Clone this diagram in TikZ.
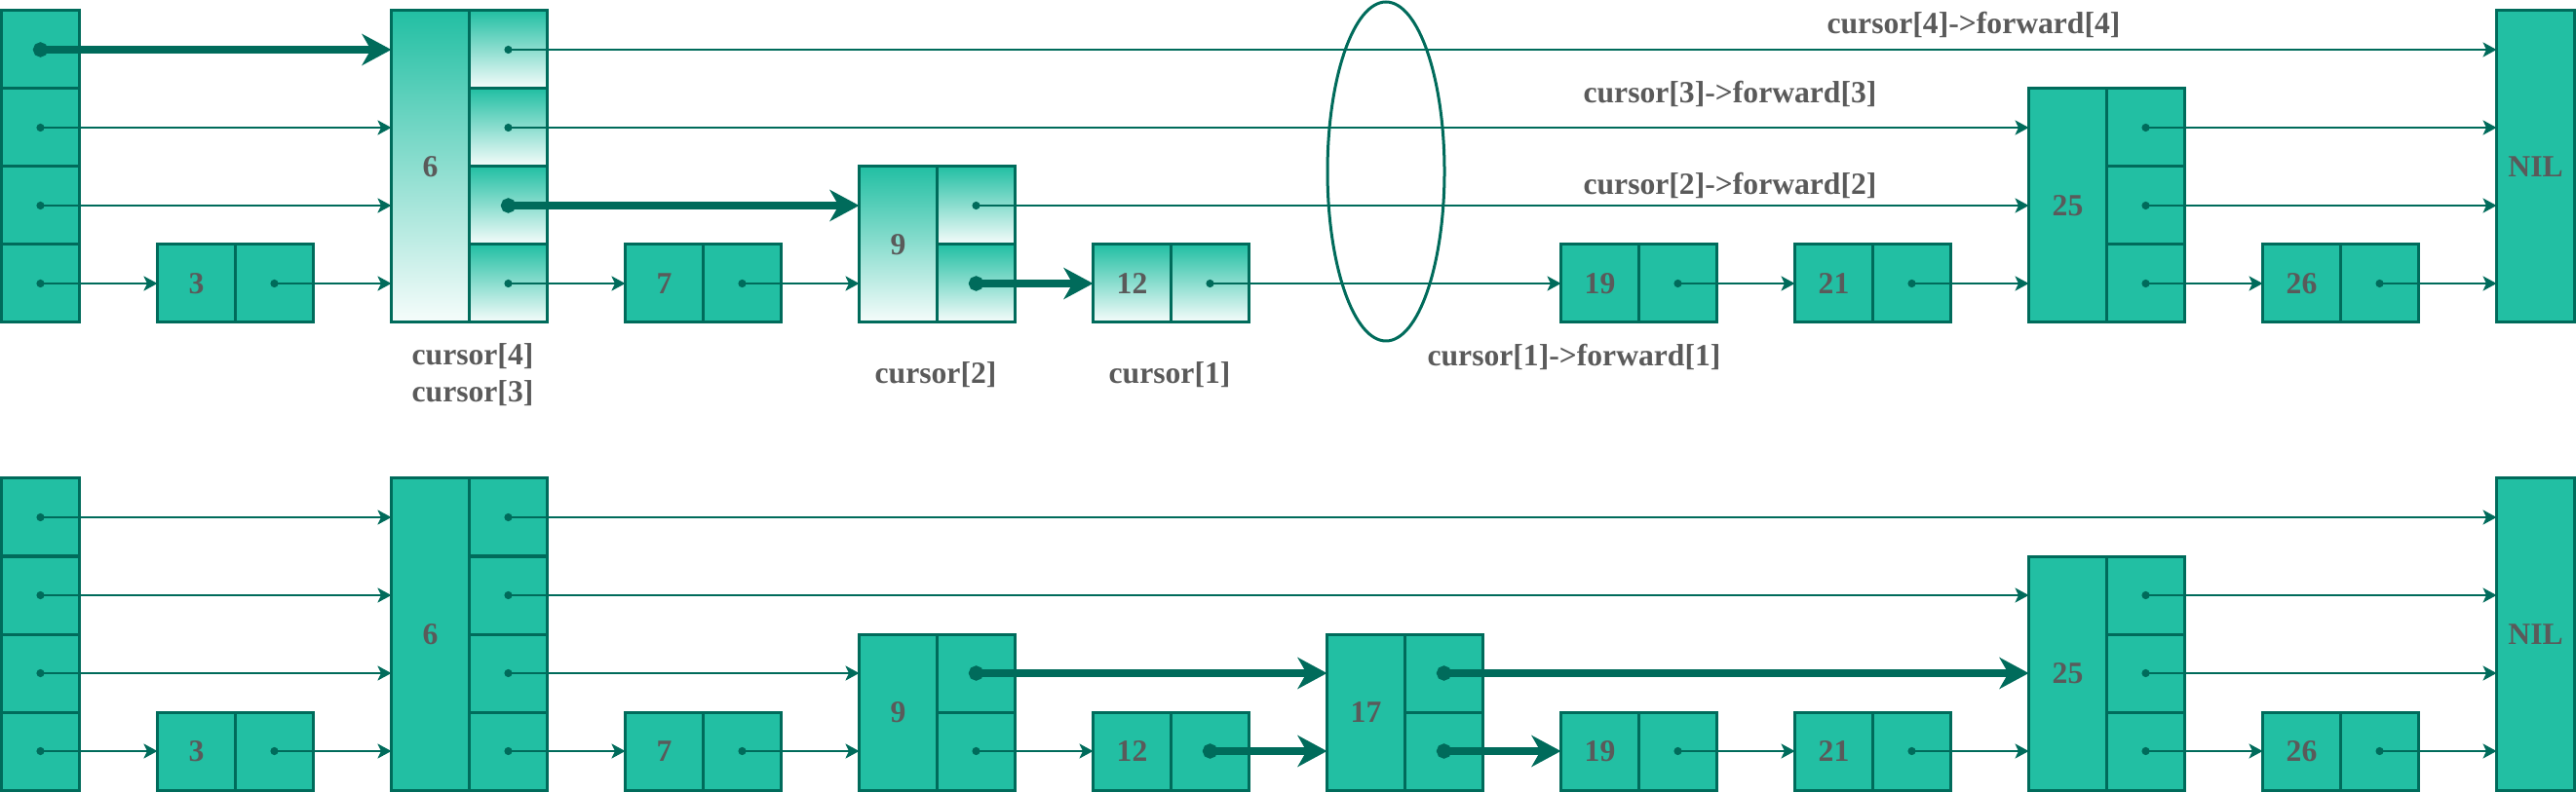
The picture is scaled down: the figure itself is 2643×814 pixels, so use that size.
\documentclass[tikz,border=0pt]{standalone}
\usepackage{fontspec}
\setmainfont{Liberation Serif}
\usetikzlibrary{arrows.meta}
\definecolor{skfill}{HTML}{22BFA3}
\definecolor{skline}{HTML}{006B5B}
\definecolor{sktext}{HTML}{5A5A5A}
% prefix, key, column, top of list, levels, extra style
\newcommand{\skipnode}[6]{%
  \node[cell, #6, minimum height=#5*8mm] (#1#2k) at ({80*#3+1.5}, {#4+(4-#5)*80}) {#2};
  \foreach \lev in {1,...,#5}
    \node[cell, #6] (#1#2p\lev) at ({80*#3+81.5}, {#4+(4-\lev)*80}) {};
}

\begin{document}
\begin{tikzpicture}[x=0.1mm, y=-0.1mm,
    cell/.style={draw=skline, line width=0.3mm, fill=skfill, anchor=north west,
      minimum width=8mm, minimum height=8mm, inner sep=0pt, outer sep=0pt,
      text=sktext, font=\bfseries\fontsize{9}{10.8}\selectfont},
    fade/.style={top color=skfill, bottom color=white!96!skfill},
    ptr/.style={draw=skline, line width=0.25mm, shorten <=-0.4mm,
      {Circle[length=0.8mm]}-{Stealth[length=1.4mm, width=1.5mm, inset=0.35mm]}},
    ptrbold/.style={draw=skline, line width=0.8mm, shorten <=-0.75mm,
      {Circle[length=1.5mm]}-{Stealth[length=3mm, width=3.2mm, inset=0.9mm]}},
    lbl/.style={text=sktext, font=\bfseries\fontsize{9}{10.8}\selectfont, inner sep=0pt}]
\useasboundingbox (0,0) rectangle (2643,814);

% upper list: searching
\foreach \lev in {1,...,4}
  \node[cell] (aHp\lev) at (1.5, {11+(4-\lev)*80}) {};
\skipnode{a}{3}{2}{11}{1}{}
\skipnode{a}{6}{5}{11}{4}{fade}
\skipnode{a}{7}{8}{11}{1}{}
\skipnode{a}{9}{11}{11}{2}{fade}
\skipnode{a}{12}{14}{11}{1}{fade}
\skipnode{a}{19}{20}{11}{1}{}
\skipnode{a}{21}{23}{11}{1}{}
\skipnode{a}{25}{26}{11}{3}{}
\skipnode{a}{26}{29}{11}{1}{}
\node[cell, minimum height=32mm] (aNILk) at (2561.5, 11) {NIL};

\foreach \src/\dst/\lev in {6/NIL/4, H/6/3, 6/25/3, 25/NIL/3, H/6/2, 9/25/2, 25/NIL/2,
    H/3/1, 3/6/1, 6/7/1, 7/9/1, 12/19/1, 19/21/1, 21/25/1, 25/26/1, 26/NIL/1}
  \draw[ptr] (a\src p\lev.center) -- (a\dst k.west |- a\src p\lev.center);
\foreach \src/\dst/\lev in {H/6/4, 6/9/2, 9/12/1}
  \draw[ptrbold] (a\src p\lev.center) -- (a\dst k.west |- a\src p\lev.center);

\draw[skline, line width=0.3mm] (1422,176) ellipse [x radius=6mm, y radius=17.4mm];

\node[lbl] (f4) at (2025,25) {cursor[4]->forward[4]};
\node[lbl] (f3) at (1775,96) {cursor[3]->forward[3]};
\node[lbl] (f2) at (1775,190) {cursor[2]->forward[2]};
\node[lbl] (f1) at (1615,366) {cursor[1]->forward[1]};
\node[lbl, align=center] (c43) at (485,385) {cursor[4]\\cursor[3]};
\node[lbl] (c2) at (960,385) {cursor[2]};
\node[lbl] (c1) at (1200,385) {cursor[1]};

% lower list: 17 inserted
\foreach \lev in {1,...,4}
  \node[cell] (bHp\lev) at (1.5, {491+(4-\lev)*80}) {};
\skipnode{b}{3}{2}{491}{1}{}
\skipnode{b}{6}{5}{491}{4}{}
\skipnode{b}{7}{8}{491}{1}{}
\skipnode{b}{9}{11}{491}{2}{}
\skipnode{b}{12}{14}{491}{1}{}
\skipnode{b}{17}{17}{491}{2}{}
\skipnode{b}{19}{20}{491}{1}{}
\skipnode{b}{21}{23}{491}{1}{}
\skipnode{b}{25}{26}{491}{3}{}
\skipnode{b}{26}{29}{491}{1}{}
\node[cell, minimum height=32mm] (bNILk) at (2561.5, 491) {NIL};

\foreach \src/\dst/\lev in {H/6/4, 6/NIL/4, H/6/3, 6/25/3, 25/NIL/3, H/6/2, 6/9/2, 25/NIL/2,
    H/3/1, 3/6/1, 6/7/1, 7/9/1, 9/12/1, 19/21/1, 21/25/1, 25/26/1, 26/NIL/1}
  \draw[ptr] (b\src p\lev.center) -- (b\dst k.west |- b\src p\lev.center);
\foreach \src/\dst/\lev in {9/17/2, 17/25/2, 12/17/1, 17/19/1}
  \draw[ptrbold] (b\src p\lev.center) -- (b\dst k.west |- b\src p\lev.center);
\end{tikzpicture}
\end{document}
